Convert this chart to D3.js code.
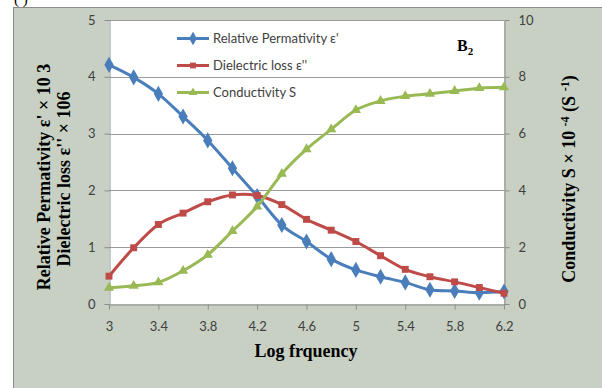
<!DOCTYPE html>
<html>
<head>
<meta charset="utf-8">
<script src="https://cdn.jsdelivr.net/npm/d3@7"></script>
<style>
  body { margin: 0; background: #fff; }
  svg { display: block; }
</style>
</head>
<body>
<svg id="chart" width="602" height="388"></svg>
<script>
// log frequency on x, one value per point
const freq = [3, 3.2, 3.4, 3.6, 3.8, 4, 4.2, 4.4, 4.6, 4.8, 5, 5.2, 5.4, 5.6, 5.8, 6, 6.2];
const permittivity = [4.21, 3.99, 3.70, 3.30, 2.88, 2.39, 1.90, 1.39, 1.10, 0.79, 0.60, 0.48, 0.38, 0.25, 0.23, 0.20, 0.22];
const loss = [0.49, 0.99, 1.40, 1.60, 1.80, 1.92, 1.91, 1.75, 1.49, 1.30, 1.10, 0.85, 0.61, 0.48, 0.39, 0.29, 0.19];
const conductivity = [0.57, 0.64, 0.76, 1.17, 1.73, 2.57, 3.43, 4.58, 5.45, 6.15, 6.83, 7.15, 7.32, 7.40, 7.50, 7.60, 7.63];

const xTicks = [3, 3.4, 3.8, 4.2, 4.6, 5, 5.4, 5.8, 6.2];
const leftTicks = [0, 1, 2, 3, 4, 5];
const rightTicks = [0, 2, 4, 6, 8, 10];
const seriesNames = ["Relative Permativity ε'", "Dielectric loss  ε''", "Conductivity S"];

const colors = ['#4a7ebb', '#be4b48', '#98b954'];

const svg = d3.select('#chart');
const plot = { left: 109, right: 504, top: 20, bottom: 304 };

// frame
svg.append('text')
  .attr('x', 14).attr('y', 4)
  .style('font', '15px "Liberation Serif", serif')
  .text('(      )');
svg.append('rect')
  .attr('x', 13.5).attr('y', 7.5)
  .attr('width', 600).attr('height', 390)
  .style('fill', '#c7d0c3')
  .style('stroke', '#8c8c8c');
svg.append('rect')
  .attr('x', plot.left).attr('y', plot.top)
  .attr('width', plot.right - plot.left).attr('height', plot.bottom - plot.top)
  .style('fill', '#fff');

const x = d3.scaleLinear().domain([3, 6.2]).range([plot.left, plot.right]);
const yL = d3.scaleLinear().domain([0, 5]).range([plot.bottom, plot.top]);
const yR = d3.scaleLinear().domain([0, 10]).range([plot.bottom, plot.top]);

// gridlines
svg.append('g')
  .selectAll('line')
  .data(leftTicks.slice(1))
  .enter()
  .append('line')
  .attr('x1', plot.left).attr('x2', plot.right)
  .attr('y1', d => Math.round(yL(d)) + 0.5).attr('y2', d => Math.round(yL(d)) + 0.5)
  .style('stroke', '#9a9a9a');

const tickFont = '13px Lato, "Open Sans", sans-serif';

function styleAxis(g) {
  g.select('.domain').style('stroke', '#8c8c8c');
  g.selectAll('.tick line').style('stroke', '#8c8c8c');
  g.selectAll('.tick text').style('font', tickFont).style('fill', '#404040');
}

svg.append('g')
  .attr('transform', `translate(${plot.left + 0.5},0)`)
  .call(d3.axisLeft(yL).tickValues(leftTicks).tickFormat(d => d).tickSize(5).tickSizeOuter(0).tickPadding(9))
  .call(styleAxis);

svg.append('g')
  .attr('transform', `translate(${plot.right + 0.5},0)`)
  .call(d3.axisRight(yR).tickValues(rightTicks).tickFormat(d => d).tickSize(5).tickSizeOuter(0).tickPadding(9))
  .call(styleAxis);

svg.append('g')
  .attr('transform', `translate(0,${plot.bottom + 0.5})`)
  .call(d3.axisBottom(x).tickValues(xTicks).tickFormat(d => d).tickSize(5).tickSizeOuter(0).tickPadding(12))
  .call(styleAxis);

// series
const series = [
  { values: permittivity, y: yL, shape: d3.symbolDiamond, size: 75 },
  { values: loss, y: yL, shape: d3.symbolSquare, size: 48 },
  { values: conductivity, y: yR, shape: d3.symbolTriangle, size: 45 }
];

series.forEach((s, i) => {
  const pts = freq.map((f, j) => [x(f), s.y(s.values[j])]);
  svg.append('path')
    .attr('d', d3.line().curve(d3.curveCatmullRom.alpha(0))(pts))
    .style('fill', 'none')
    .style('stroke', colors[i])
    .style('stroke-width', 3);
  svg.append('g')
    .selectAll('path')
    .data(pts)
    .enter()
    .append('path')
    .attr('transform', d => `translate(${d[0]},${d[1]})`)
    .attr('d', d3.symbol().type(s.shape).size(s.size))
    .style('fill', colors[i]);
});

// legend
const legend = svg.append('g');
seriesNames.forEach((name, i) => {
  const ly = 38.5 + i * 27;
  legend.append('line')
    .attr('x1', 177).attr('x2', 209)
    .attr('y1', ly).attr('y2', ly)
    .style('stroke', colors[i]).style('stroke-width', 3);
  legend.append('path')
    .attr('transform', `translate(193,${ly})`)
    .attr('d', d3.symbol().type(series[i].shape).size(series[i].size * 0.7))
    .style('fill', colors[i]);
  legend.append('text')
    .attr('x', 213).attr('y', ly + 4.5)
    .style('font', tickFont)
    .style('fill', '#404040')
    .text(name);
});

// B2 label
const b2 = svg.append('text')
  .attr('x', 457).attr('y', 51)
  .style('font', 'bold 16px "Liberation Serif", serif');
b2.append('tspan').text('B');
b2.append('tspan').attr('dy', 4).style('font-size', '11px').text('2');

// axis titles
const titleFont = 'bold 18px "Liberation Serif", serif';
svg.append('text')
  .attr('transform', 'translate(50,177) rotate(-90)')
  .attr('text-anchor', 'middle')
  .style('font', titleFont)
  .text("Relative Permativity ε' × 10 3");
svg.append('text')
  .attr('transform', 'translate(70,179) rotate(-90)')
  .attr('text-anchor', 'middle')
  .style('font', titleFont)
  .text("Dielectric loss ε'' × 106");

const rt = svg.append('text')
  .attr('transform', 'translate(575,179) rotate(-90)')
  .attr('text-anchor', 'middle')
  .style('font', titleFont);
rt.append('tspan').text('Conductivity S × 10 ');
rt.append('tspan').attr('dy', -6).style('font-size', '12px').text('-4');
rt.append('tspan').attr('dy', 6).text(' (S ');
rt.append('tspan').attr('dy', -6).style('font-size', '12px').text('-1');
rt.append('tspan').attr('dy', 6).text(')');

svg.append('text')
  .attr('x', 306).attr('y', 357)
  .attr('text-anchor', 'middle')
  .style('font', titleFont)
  .text('Log frquency');
</script>
</body>
</html>
